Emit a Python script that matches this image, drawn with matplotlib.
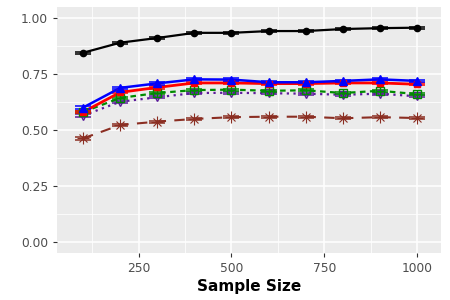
import matplotlib
matplotlib.use("Agg")
import matplotlib.pyplot as plt
import numpy as np

# sample sizes on the x axis
sample_size = [100, 200, 300, 400, 500, 600, 700, 800, 900, 1000]

# one series per method
black = [0.845, 0.890, 0.911, 0.934, 0.934, 0.942, 0.942, 0.951, 0.955, 0.957]
blue = [0.600, 0.688, 0.708, 0.726, 0.725, 0.713, 0.713, 0.719, 0.726, 0.719]
red = [0.580, 0.668, 0.690, 0.710, 0.710, 0.707, 0.707, 0.710, 0.710, 0.704]
green = [0.580, 0.643, 0.665, 0.678, 0.680, 0.675, 0.677, 0.665, 0.675, 0.660]
purple = [0.564, 0.626, 0.646, 0.665, 0.666, 0.664, 0.662, 0.657, 0.662, 0.650]
brown = [0.462, 0.522, 0.537, 0.549, 0.557, 0.559, 0.559, 0.552, 0.557, 0.553]
err = 0.005

fig = plt.figure(figsize=(4.5, 3), dpi=100)
ax = fig.add_axes([0.127, 0.157, 0.854, 0.82])
ax.set_facecolor("#EBEBEB")


def bars(vals, col):
    ax.errorbar(sample_size, vals, yerr=err, fmt="none", ecolor=col,
                elinewidth=1.0, capsize=6, capthick=1.1, zorder=3)


# brown, long dash, asterisk
ax.plot(sample_size, brown, color="#8B2E22", ls=(0, (5, 4)), lw=1.5, zorder=3)
bars(brown, "#8B2E22")
ax.plot(sample_size, brown, ls="none", marker="x", ms=6, color="#8B2E22", mew=0.8, zorder=4)
ax.plot(sample_size, brown, ls="none", marker="+", ms=8, color="#8B2E22", mew=0.8, zorder=4)

# purple, dotted, open down triangle
ax.plot(sample_size, purple, color="#5B1A9A", ls=(0, (1, 2)), lw=1.6, zorder=3)
bars(purple, "#5B1A9A")
ax.plot(sample_size, purple, ls="none", marker="v", ms=6, mfc="none", mec="#5B1A9A", mew=1.0, zorder=4)

# green, dashed, square with plus
ax.plot(sample_size, green, color="#008B00", ls=(0, (2.5, 2)), lw=1.6, zorder=3)
bars(green, "#008B00")
ax.plot(sample_size, green, ls="none", marker="s", ms=6, mfc="none", mec="#008B00", mew=1.0, zorder=4)
ax.plot(sample_size, green, ls="none", marker="+", ms=6, color="#008B00", mew=1.0, zorder=4)

# red, solid, small square
ax.plot(sample_size, red, color="#FF0000", ls="-", lw=2.0, zorder=3)
bars(red, "#FF0000")
ax.plot(sample_size, red, ls="none", marker="s", ms=4, color="#FF0000", zorder=4)

# blue, solid, filled triangle
ax.plot(sample_size, blue, color="#0000FF", ls="-", lw=1.8, zorder=3)
bars(blue, "#0000FF")
ax.plot(sample_size, blue, ls="none", marker="^", ms=5.5, color="#0000FF", zorder=4)

# black, solid, filled circle
ax.plot(sample_size, black, color="#000000", ls="-", lw=1.6, zorder=3)
bars(black, "#000000")
ax.plot(sample_size, black, ls="none", marker="o", ms=4.5, color="#000000", zorder=4)

ax.set_xlim(30, 1066)
ax.set_ylim(-0.05, 1.05)
ax.set_xticks([250, 500, 750, 1000])
ax.set_xticks([125, 375, 625, 875], minor=True)
ax.set_yticks([0, 0.25, 0.5, 0.75, 1.0])
ax.set_yticks([0.125, 0.375, 0.625, 0.875], minor=True)
ax.set_yticklabels(["0.00", "0.25", "0.50", "0.75", "1.00"])
ax.grid(which="major", color="white", linewidth=1.1, zorder=0)
ax.grid(which="minor", color="white", linewidth=0.55, zorder=0)
ax.set_axisbelow(True)
for s in ax.spines.values():
    s.set_visible(False)
ax.tick_params(which="major", length=3, color="#333333", labelcolor="#4D4D4D",
               labelsize=8.8, width=0.8)
ax.tick_params(which="minor", length=0)
ax.set_xlabel("Sample Size", fontsize=11, fontweight="bold", labelpad=3)

fig.savefig("out.png", dpi=100)
